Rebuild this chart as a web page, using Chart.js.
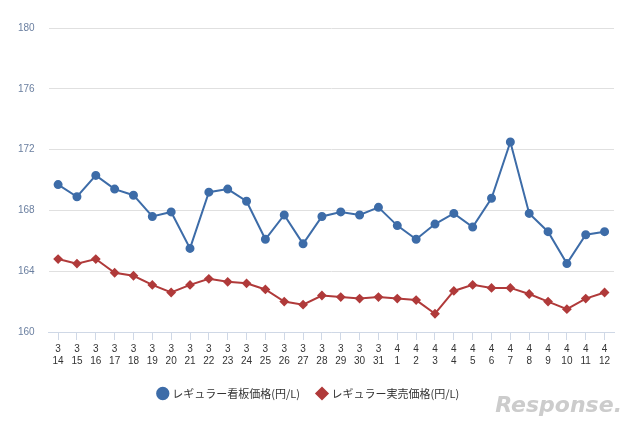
<!DOCTYPE html>
<html><head><meta charset="utf-8">
<script src="https://cdn.jsdelivr.net/npm/chart.js@4"></script>
<style>body{margin:0;background:#fff}#w{width:640px;height:431px;position:relative}</style>
</head><body><div id="w"><canvas id="c" width="640" height="431"></canvas>
<div style="position:absolute;right:18px;bottom:14px;font:italic bold 22px 'DejaVu Sans';color:#ccc">Response.</div></div>
<script>
const months=["3","3","3","3","3","3","3","3","3","3","3","3","3","3","3","3","3","3","4","4","4","4","4","4","4","4","4","4","4","4"];
const days=["14","15","16","17","18","19","20","21","22","23","24","25","26","27","28","29","30","31","1","2","3","4","5","6","7","8","9","10","11","12"];
const signPrice=[169.7,168.9,170.3,169.4,169.0,167.6,167.9,165.5,169.2,169.4,168.6,166.1,167.7,165.8,167.6,167.9,167.7,168.2,167.0,166.1,167.1,167.8,166.9,168.8,172.5,167.8,166.6,164.5,166.4,166.6];
const actualPrice=[164.8,164.5,164.8,163.9,163.7,163.1,162.6,163.1,163.5,163.3,163.2,162.8,162.0,161.8,162.4,162.3,162.2,162.3,162.2,162.1,161.2,162.7,163.1,162.9,162.9,162.5,162.0,161.5,162.2,162.6];
const labels=months.map((m,i)=>[m,days[i]]);
new Chart(document.getElementById('c'),{type:'line',
data:{labels,datasets:[
{label:'レギュラー看板価格(円/L)',data:signPrice,borderColor:'#3d6ca8',backgroundColor:'#3d6ca8',pointStyle:'circle',pointRadius:3.5,borderWidth:2,tension:0},
{label:'レギュラー実売価格(円/L)',data:actualPrice,borderColor:'#b03a3a',backgroundColor:'#b03a3a',pointStyle:'rectRot',pointRadius:3.5,borderWidth:2,tension:0}]},
options:{responsive:false,animation:false,devicePixelRatio:1,
layout:{padding:{left:4,right:26,top:28,bottom:22}},
plugins:{legend:{position:'bottom',labels:{usePointStyle:true,boxWidth:8,boxHeight:8,padding:18,color:'#333',font:{family:"'Noto Sans CJK JP'",size:11}}},tooltip:{enabled:false}},
scales:{x:{offset:true,grid:{display:true,drawOnChartArea:false,tickLength:8,color:'#cfd8e6'},border:{color:'#cfd8e6'},ticks:{maxRotation:0,autoSkip:false,color:'#333',font:{family:'Arial',size:10}}},
y:{min:160,max:180,ticks:{stepSize:4,color:'#6a7fa0',padding:14,font:{family:'Arial',size:10}},grid:{color:'#e0e0e0',drawTicks:false},border:{display:false}}}}});
</script></body></html>
